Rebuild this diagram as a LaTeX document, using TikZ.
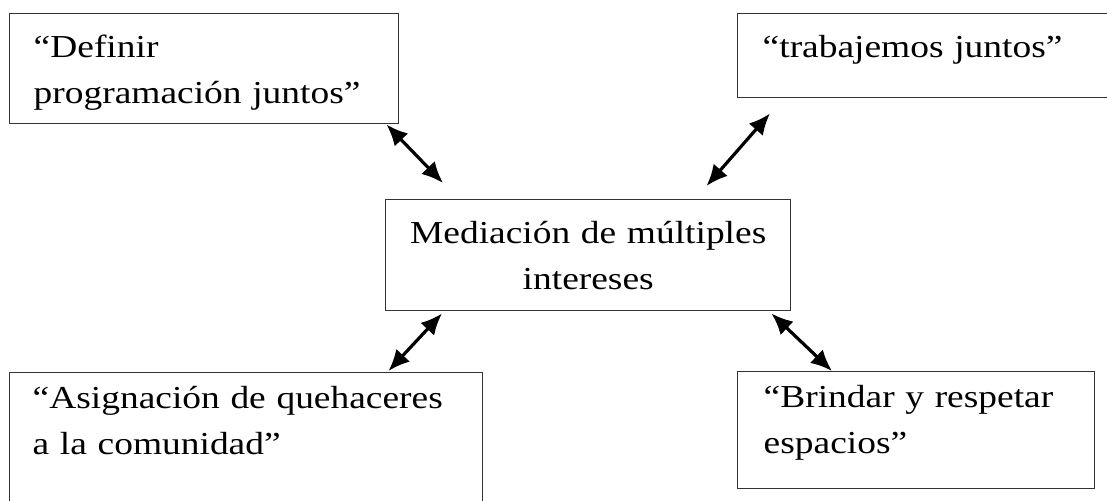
\documentclass[tikz,border=0pt]{standalone}
\usepackage{fontspec}
\setmainfont{Liberation Serif}[FakeStretch=1.17]
\usetikzlibrary{arrows.meta,calc}

\begin{document}
\begin{tikzpicture}[
  x=0.75pt, y=-0.75pt,
  box/.style={rectangle, draw=black!80, line width=1.1pt, anchor=north west, inner ysep=0pt, align=left, font=\fontsize{24pt}{34pt}\selectfont},
  arrow/.style={{Latex[length=16pt,width=14pt]}-{Latex[length=16pt,width=14pt]}, line width=2.4pt}
]
\useasboundingbox (0,0) rectangle (1107,500);
\clip (0,0) rectangle (1107,500);

% Boxes
\node[box, text width=255.75pt, inner xsep=18pt, text height=33pt, text depth=49.5pt] (define) at (9,13) {“Definir\\programación juntos”};
\node[box, text width=249.75pt, inner xsep=18.75pt, text height=33pt, text depth=30pt] (together) at (737,13) {“trabajemos juntos”};
\node[box, align=center, text width=288.75pt, inner xsep=7.5pt, text height=33pt, text depth=50.25pt] (mediation) at (385,199) {Mediación de múltiples\\intereses};
\node[box, text width=320.25pt, inner xsep=17.25pt, text height=27pt, text depth=78pt] (tasks) at (9,372) {“Asignación de quehaceres\\a la comunidad”};
\node[box, text width=228.75pt, inner xsep=19.5pt, text height=27pt, text depth=60.75pt] (spaces) at (737,371) {“Brindar y respetar\\espacios”};

% Connect the boxes
\draw[arrow] ($(define.south east)+(-13,0)$) -- ($(mediation.north west)+(58,-16)$);
\draw[arrow] ($(together.south west)+(33,15)$) -- ($(mediation.north east)+(-85,-13)$);
\draw[arrow] ($(mediation.south west)+(57,2)$) -- ($(tasks.north east)+(-95,-1)$);
\draw[arrow] ($(mediation.south east)+(-20,2)$) -- ($(spaces.north west)+(95,0)$);

\end{tikzpicture}
\end{document}
